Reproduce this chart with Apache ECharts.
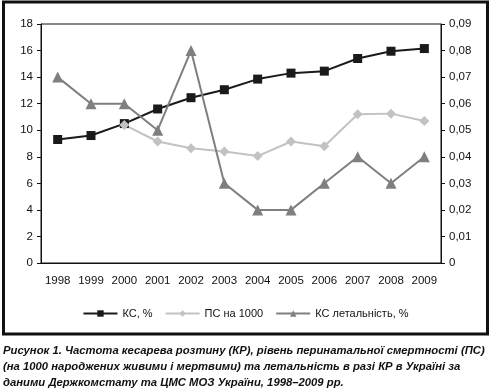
<!DOCTYPE html>
<html><head><meta charset="utf-8">
<script src="https://cdn.jsdelivr.net/npm/echarts@6/dist/echarts.min.js"></script>
<style>html,body{margin:0;padding:0;background:#fff}#c{width:491px;height:390px}</style>
</head><body><div id="c"></div>
<script>
const years = ['1998','1999','2000','2001','2002','2003','2004','2005','2006','2007','2008','2009'];
const ksRate = [9.3, 9.6, 10.5, 11.6, 12.45, 13.05, 13.85, 14.3, 14.45, 15.4, 15.95, 16.15];
const psRate = [null, null, 10.4, 9.15, 8.65, 8.4, 8.05, 9.15, 8.8, 11.2, 11.25, 10.7];
const ksMortality = [0.07, 0.06, 0.06, 0.05, 0.08, 0.03, 0.02, 0.02, 0.03, 0.04, 0.03, 0.04];
const seriesNames = ['КС, %', 'ПС на 1000', 'КС летальність, %'];
const caption = [
  'Рисунок 1. Частота кесарева розтину (КР), рівень перинатальної смертності (ПС)',
  '(на 1000 народжених живими і мертвими) та летальність в разі КР в Україні за',
  'даними Держкомстату та ЦМС МОЗ України, 1998–2009 рр.'
];
const FONT = 'Liberation Sans';
const chart = echarts.init(document.getElementById('c'));
chart.setOption({
  animation: false,
  textStyle: {fontFamily: FONT},
  grid: {left: 41, right: 50, top: 24, bottom: 127, show: true, borderColor: '#111', borderWidth: 1, containLabel: false},
  legend: {
    bottom: 66, left: 'center', itemWidth: 34, itemHeight: 8, itemGap: 12,
    textStyle: {fontSize: 11, color: '#111', fontFamily: FONT},
    data: seriesNames
  },
  xAxis: {
    type: 'category', data: years, boundaryGap: true,
    axisLine: {lineStyle: {color: '#111'}},
    axisTick: {inside: true, length: 5, lineStyle: {color: '#111'}},
    axisLabel: {fontSize: 11.5, color: '#111', margin: 12, interval: 0}
  },
  yAxis: [{
    type: 'value', min: 0, max: 18, interval: 2,
    axisLine: {show: true, lineStyle: {color: '#111'}},
    axisTick: {show: true, length: 4, lineStyle: {color: '#111'}},
    splitLine: {show: false},
    axisLabel: {fontSize: 11.5, color: '#111', margin: 8}
  }, {
    type: 'value', min: 0, max: 0.09, interval: 0.01, position: 'right',
    axisLine: {show: true, lineStyle: {color: '#111'}},
    axisTick: {show: true, length: 4, lineStyle: {color: '#111'}},
    splitLine: {show: false},
    axisLabel: {fontSize: 11.5, color: '#111', margin: 8, formatter: v => v === 0 ? '0' : v.toFixed(2).replace('.', ',')}
  }],
  series: [{
    name: seriesNames[0], type: 'line', data: ksRate, yAxisIndex: 0,
    symbol: 'rect', symbolSize: 9, color: '#1a1a1a',
    lineStyle: {width: 2, color: '#1a1a1a'}, itemStyle: {color: '#1a1a1a'}
  }, {
    name: seriesNames[1], type: 'line', data: psRate, yAxisIndex: 0,
    symbol: 'diamond', symbolSize: 10, color: '#c2c2c2',
    lineStyle: {width: 2, color: '#c2c2c2'}, itemStyle: {color: '#c2c2c2'}
  }, {
    name: seriesNames[2], type: 'line', data: ksMortality, yAxisIndex: 1,
    symbol: 'triangle', symbolSize: 11, color: '#7f7f7f',
    lineStyle: {width: 2, color: '#7f7f7f'}, itemStyle: {color: '#7f7f7f'}
  }],
  graphic: [{
    type: 'rect', shape: {x: 3.5, y: 2, width: 484, height: 332},
    style: {fill: 'none', stroke: '#111', lineWidth: 3}, silent: true
  }].concat(caption.map((t, i) => ({
    type: 'text', left: 3, top: 345 + i * 16,
    style: {text: t, font: 'italic bold 11.3px "' + FONT + '"', fill: '#111'}
  })))
});
</script></body></html>
